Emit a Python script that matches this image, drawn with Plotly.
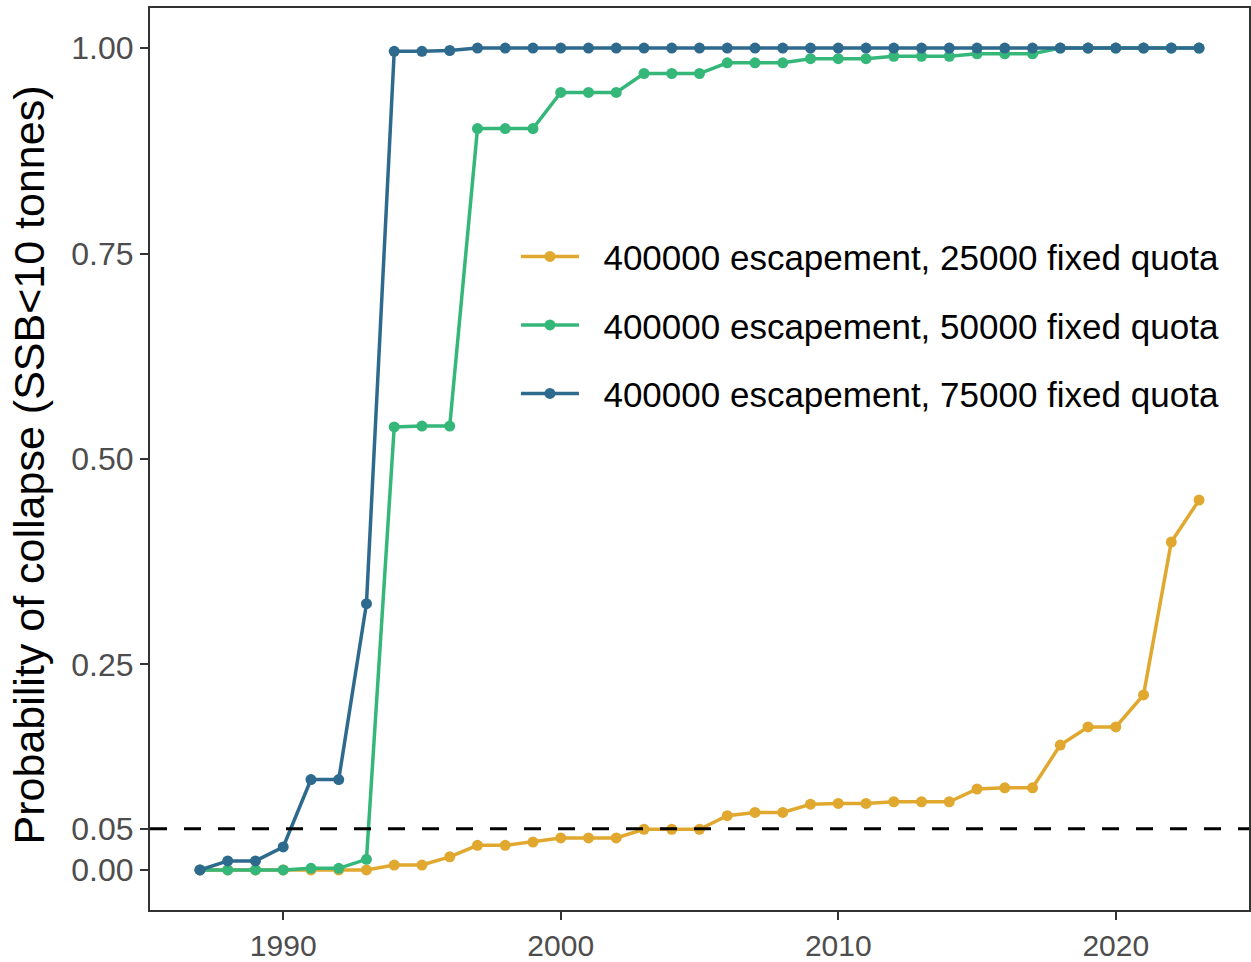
import plotly.graph_objects as go

years = list(range(1987, 2024))

# 400000 escapement, 25000 fixed quota
q25 = [0, 0, 0, 0, 0, 0, 0, 0.006, 0.006, 0.016, 0.030, 0.030, 0.034,
       0.039, 0.039, 0.039, 0.0495, 0.0495, 0.0495, 0.066, 0.070, 0.070,
       0.080, 0.081, 0.081, 0.083, 0.083, 0.083, 0.0985, 0.100, 0.100,
       0.152, 0.174, 0.174, 0.213, 0.399, 0.450]
# 400000 escapement, 50000 fixed quota
q50 = [0, 0, 0, 0, 0.002, 0.002, 0.013, 0.539, 0.540, 0.540, 0.902, 0.902,
       0.902, 0.946, 0.946, 0.946, 0.969, 0.969, 0.969, 0.982, 0.982, 0.982,
       0.987, 0.987, 0.987, 0.990, 0.990, 0.990, 0.993, 0.993, 0.993,
       1.0, 1.0, 1.0, 1.0, 1.0, 1.0]
# 400000 escapement, 75000 fixed quota
q75 = [0, 0.011, 0.011, 0.028, 0.110, 0.110, 0.324, 0.996, 0.996, 0.997,
       1.0, 1.0, 1.0, 1.0, 1.0, 1.0, 1.0, 1.0, 1.0, 1.0, 1.0, 1.0, 1.0, 1.0,
       1.0, 1.0, 1.0, 1.0, 1.0, 1.0, 1.0, 1.0, 1.0, 1.0, 1.0, 1.0, 1.0]

series_names = ["400000 escapement, 25000 fixed quota",
                "400000 escapement, 50000 fixed quota",
                "400000 escapement, 75000 fixed quota"]
series_values = [q25, q50, q75]
colors = ["#E1A82F", "#35B779", "#2E6A8E"]

threshold = 0.05
ytick_vals = [0, 0.05, 0.25, 0.5, 0.75, 1.0]
ytick_text = ["0.00", "0.05", "0.25", "0.50", "0.75", "1.00"]
xtick_vals = [1990, 2000, 2010, 2020]
y_title = "Probability of collapse (SSB<10 tonnes)"

NBSP = "\u00a0"

fig = go.Figure()
for i, (name, vals, col) in enumerate(zip(series_names, series_values, colors)):
    fig.add_trace(go.Scatter(
        x=years, y=vals, mode="lines+markers", name=NBSP * 2 + name,
        legendgroup=f"g{i}",
        line=dict(color=col, width=3.5),
        marker=dict(color=col, size=11),
    ))

fig.add_shape(type="line", xref="paper", x0=0, x1=1, yref="y",
              y0=threshold, y1=threshold,
              line=dict(color="black", width=3, dash="17px,17px"), layer="above")

fig.add_annotation(
    text=y_title, textangle=-90, showarrow=False,
    xref="paper", yref="paper", x=-0.110, y=0.493,
    xanchor="center", yanchor="middle",
    font=dict(size=43, color="black"),
)

fig.update_layout(
    width=1251, height=962,
    margin=dict(l=150, r=2, t=8, b=52),
    paper_bgcolor="white", plot_bgcolor="white",
    font=dict(family="Liberation Sans, Arial, sans-serif"),
    showlegend=True,
    legend=dict(
        x=0.333, y=0.757, xanchor="left", yanchor="top",
        font=dict(size=35, color="black"),
        bgcolor="rgba(0,0,0,0)",
        tracegroupgap=20,
        itemwidth=58,
    ),
    xaxis=dict(
        range=[1985.2, 2024.8], tickvals=xtick_vals,
        showgrid=False, zeroline=False, automargin=False,
        showline=True, linecolor="#333333", linewidth=2, mirror=True,
        ticks="outside", ticklen=8, tickwidth=2, tickcolor="#333333",
        tickfont=dict(size=30, color="#4D4D4D"),
        ticklabelstandoff=0,
    ),
    yaxis=dict(
        range=[-0.0487, 1.0487], tickvals=ytick_vals, ticktext=ytick_text,
        showgrid=False, zeroline=False, automargin=False,
        showline=True, linecolor="#333333", linewidth=2, mirror=True,
        ticks="outside", ticklen=8, tickwidth=2, tickcolor="#333333",
        tickfont=dict(size=32, color="#4D4D4D"),
    ),
)

fig.write_html("out.html", config={"displayModeBar": False},
               post_script="document.body.style.margin='0';")
